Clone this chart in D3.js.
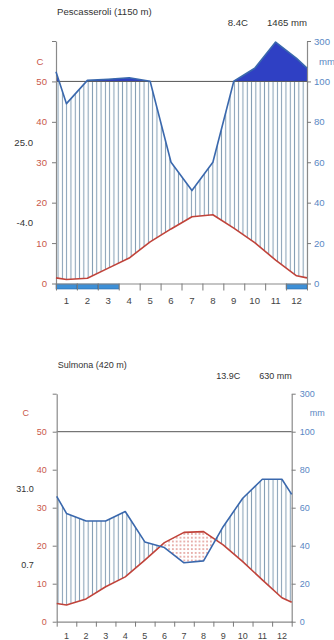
<!DOCTYPE html>
<html><head><meta charset="utf-8">
<script src="https://cdn.jsdelivr.net/npm/d3@7/dist/d3.min.js"></script>
<style>
body{margin:0;background:#fff}
svg{display:block}
text{font-family:"Liberation Sans",Arial,sans-serif}
</style>
</head><body>
<svg id="c" width="334" height="640"></svg>
<script>
// ---------- data ----------
const months = ["1","2","3","4","5","6","7","8","9","10","11","12"];
const leftTicks = [0,10,20,30,40,50,60];
const rightTickUnits = [0,10,20,30,40,50,60];
const rightTickLabels = ["0","20","40","60","80","100","300"];

// Pescasseroli
const title1 = "Pescasseroli (1150 m)";
const meanT1 = "8.4C";
const totalP1 = "1465 mm";
const temp1 = [1.0, 1.3, 3.8, 6.3, 10.3, 13.5, 16.5, 17.0, 13.7, 10.1, 5.8, 1.9];
const prec1 = [89, 105, 111, 118, 101, 60, 46, 60, 101, 165, 295, 214];
const tempEdge1 = [1.4, 1.4];
const precEdge1 = [148, 166];
const absMax1 = "25.0";
const absMin1 = "-4.0";
const frost1 = [1, 2, 3, 12];

// Sulmona
const title2 = "Sulmona (420 m)";
const meanT2 = "13.9C";
const totalP2 = "630 mm";
const temp2 = [4.4, 6.0, 9.2, 11.8, 16.2, 20.8, 23.5, 23.7, 20.2, 15.8, 11.0, 6.3];
const prec2 = [57, 53, 53, 58, 42, 39, 31, 32, 50, 65, 75, 75];
const tempEdge2 = [4.8, 5.1];
const precEdge2 = [66, 67];
const absMax2 = "31.0";
const absMin2 = "0.7";
const frost2 = [];

// ---------- layout ----------
const layout1 = {x0:56, x1:307, yTop:41, y0:283.5, fs:9.6, cDx:-16, mmDx:12, lblDx:7, tickLen:7, moDy:20};
const layout2 = {x0:56.7, x1:291.7, yTop:393.7, y0:621.7, fs:9.0, cDx:-31, mmDx:18, lblDx:8, tickLen:5, moDy:17.5};

const svg = d3.select("#c");
const defs = svg.append("defs");
const hp = defs.append("pattern").attr("id","hatch").attr("patternUnits","userSpaceOnUse")
  .attr("width",4.3).attr("height",10);
hp.append("line").attr("x1",2.15).attr("x2",2.15).attr("y1",0).attr("y2",10)
  .attr("stroke","#7f9ab1").attr("stroke-width",1);
const dp = defs.append("pattern").attr("id","dots").attr("patternUnits","userSpaceOnUse")
  .attr("width",3.8).attr("height",3.8);
dp.append("circle").attr("cx",1.9).attr("cy",1.9).attr("r",0.75).attr("fill","#c8463c");

const RED = "#c0433a", BLUE = "#3a68ad", DARK = "#2f40c4";

function draw(L, d) {
  const g = svg.append("g");
  const x = d3.scaleLinear().domain([0,12]).range([L.x0, L.x1]);
  const y = d3.scaleLinear().domain([0,60]).range([L.y0, L.yTop]);
  const sp = p => p <= 100 ? p/2 : 50 + (p-100)/20;
  const kx = [0, ...d3.range(12).map(i => i+0.5), 12];
  const kt = [d.tEdge[0], ...d.temp, d.tEdge[1]];
  const kp = [d.pEdge[0], ...d.prec, d.pEdge[1]].map(sp);
  const lin = (k, v) => {
    let i = 0;
    while (i < kx.length-2 && v > kx[i+1]) i++;
    const f = (v - kx[i]) / (kx[i+1] - kx[i]);
    return k[i] + (k[i+1]-k[i]) * f;
  };
  const xs = Array.from(new Set([...d3.range(0, 12.0001, 0.01).map(v => +v.toFixed(4)), ...kx])).sort((a,b)=>a-b);
  const pts = xs.map(v => ({x:v, t:lin(kt,v), p:lin(kp,v)}));

  // wet (hatched)
  g.append("path").attr("fill","url(#hatch)")
    .attr("d", d3.area().x(p=>x(p.x)).y0(p=>y(p.t)).y1(p=>y(Math.max(p.t, Math.min(p.p,50))))(pts));
  // dry (dotted)
  g.append("path").attr("fill","url(#dots)")
    .attr("d", d3.area().x(p=>x(p.x)).y0(p=>y(p.t)).y1(p=>y(Math.min(p.p,p.t)))(pts));
  // above 100 mm
  g.append("path").attr("fill",DARK)
    .attr("d", d3.area().x(p=>x(p.x)).y0(()=>y(50)).y1(p=>y(Math.max(50,p.p)))(pts));

  // 50 line
  g.append("line").attr("x1",x(0)).attr("x2",x(12)).attr("y1",y(50)).attr("y2",y(50))
    .attr("stroke","#555").attr("stroke-width",1);

  // frost bars
  g.selectAll("rect.fr").data(d.frost).join("rect")
    .attr("x", m => x(m-1)).attr("width", m => x(m)-x(m-1))
    .attr("y", L.y0+0.5).attr("height", 5)
    .attr("fill","#3d8fd6").attr("stroke","#2a6aa8").attr("stroke-width",0.6);

  // axes
  const axL = g.append("g").attr("transform",`translate(${L.x0},0)`)
    .call(d3.axisLeft(y).tickValues(leftTicks).tickFormat(v => v===60 ? "" : v).tickSize(4).tickSizeOuter(0));
  axL.selectAll("text").attr("fill","#c9574a").attr("font-size",L.fs).attr("font-family","Liberation Sans, Arial").attr("x",-L.lblDx-2);
  const axR = g.append("g").attr("transform",`translate(${L.x1},0)`)
    .call(d3.axisRight(y).tickValues(rightTickUnits).tickFormat((v,i) => rightTickLabels[i]).tickSize(4).tickSizeOuter(0));
  axR.selectAll("text").attr("fill","#5a88c4").attr("font-size",L.fs).attr("font-family","Liberation Sans, Arial").attr("x",L.lblDx);
  const axB = g.append("g").attr("transform",`translate(0,${L.y0})`)
    .call(d3.axisBottom(x).tickValues(d3.range(0,13)).tickFormat("").tickSize(L.tickLen).tickSizeOuter(0));
  [axL, axR, axB].forEach(a => {
    a.select(".domain").attr("stroke","#8a8a8a").attr("stroke-width",1.2);
    a.selectAll(".tick line").attr("stroke","#7a7a7a");
  });

  // month labels
  g.selectAll("text.mo").data(months).join("text")
    .attr("x",(m,i)=>x(i+0.5)).attr("y",L.y0+L.moDy).attr("text-anchor","middle")
    .attr("font-size",L.fs).attr("fill","#444").text(m=>m);

  // lines
  g.append("path").attr("fill","none").attr("stroke",RED).attr("stroke-width",1.6)
    .attr("stroke-linejoin","round")
    .attr("d", d3.line().x((v,i)=>x(kx[i])).y(v=>y(v))(kt));
  g.append("path").attr("fill","none").attr("stroke",BLUE).attr("stroke-width",1.6)
    .attr("stroke-linejoin","round")
    .attr("d", d3.line().x((v,i)=>x(kx[i])).y(v=>y(v))(kp));

  // texts
  g.append("text").attr("x",L.x0+1).attr("y",L.yTop-26).attr("font-size",L.fs).attr("fill","#333").text(d.title);
  const tp = g.append("text").attr("x",L.x1).attr("y",L.yTop-15).attr("text-anchor","end")
    .attr("font-size",L.fs).attr("fill","#333").text(d.totalP);
  const pw = tp.node().getComputedTextLength();
  g.append("text").attr("x",L.x1 - pw - 19).attr("y",L.yTop-15).attr("text-anchor","end")
    .attr("font-size",L.fs).attr("fill","#333").text(d.meanT);
  g.append("text").attr("x",L.x0+L.cDx).attr("y",y(55)+3.5).attr("text-anchor","middle")
    .attr("font-size",L.fs).attr("fill","#c9574a").text("C");
  g.append("text").attr("x",L.x1+L.mmDx).attr("y",y(55)+3.5)
    .attr("font-size",L.fs).attr("fill","#5a88c4").text("mm");
  g.append("text").attr("x",L.x0-23).attr("y",y(35)+3.5).attr("text-anchor","end")
    .attr("font-size",L.fs).attr("fill","#333").text(d.absMax);
  g.append("text").attr("x",L.x0-23).attr("y",y(15)+3.5).attr("text-anchor","end")
    .attr("font-size",L.fs).attr("fill","#333").text(d.absMin);
}

draw(layout1, {title:title1, meanT:meanT1, totalP:totalP1, temp:temp1, prec:prec1,
  tEdge:tempEdge1, pEdge:precEdge1, absMax:absMax1, absMin:absMin1, frost:frost1});
draw(layout2, {title:title2, meanT:meanT2, totalP:totalP2, temp:temp2, prec:prec2,
  tEdge:tempEdge2, pEdge:precEdge2, absMax:absMax2, absMin:absMin2, frost:frost2});
</script>
</body></html>
